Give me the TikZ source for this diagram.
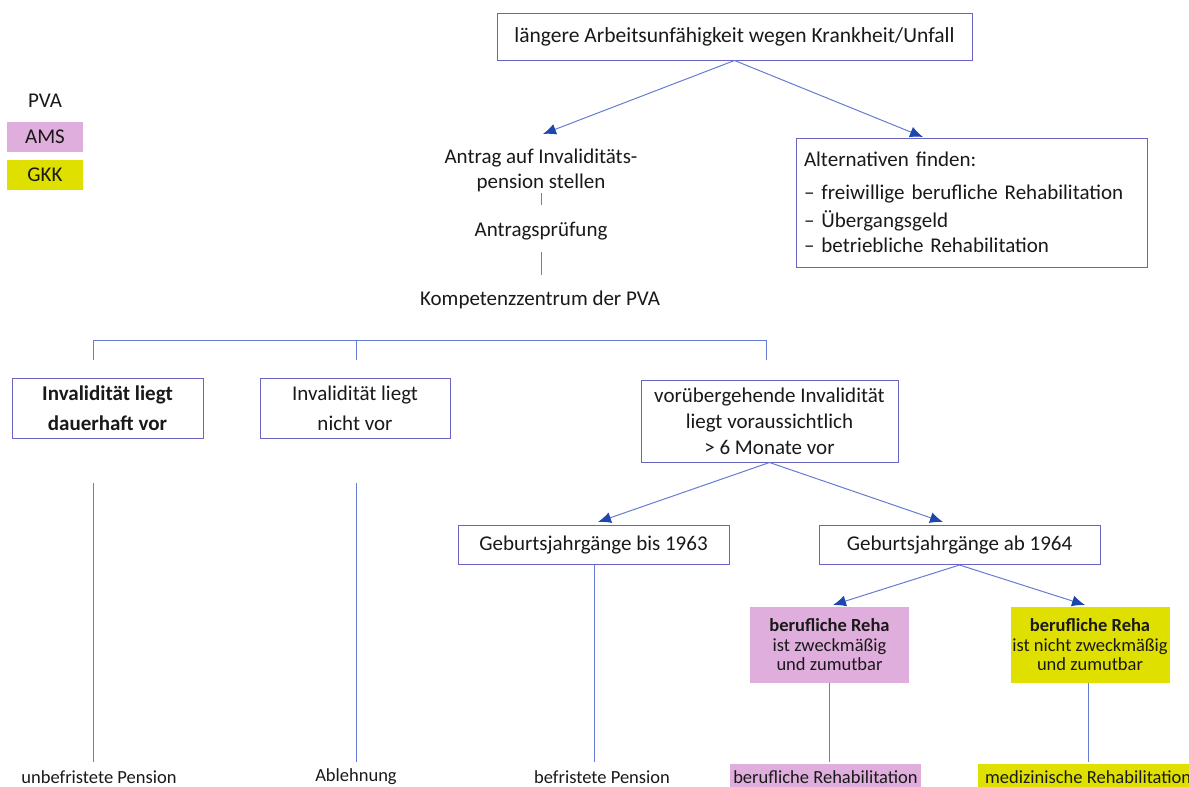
\documentclass[tikz,border=0pt]{standalone}
\usepackage{fontspec}
\setmainfont{Carlito}
\usetikzlibrary{arrows.meta}
\definecolor{ln}{RGB}{100,125,210}
\definecolor{bd}{RGB}{105,100,195}
\definecolor{ah}{RGB}{30,70,175}
\definecolor{pk}{RGB}{224,174,220}
\definecolor{yl}{RGB}{224,224,0}
\newcommand\fsa{\fontsize{21}{25}\selectfont}
\begin{document}
\begin{tikzpicture}[x=1pt,y=-1pt,
  every node/.style={font=\fsa, text=black!90, inner sep=0pt},
  box/.style={draw=bd, line width=1pt, align=center},
  lbl/.style={align=center},
  conn/.style={draw=ln, line width=1pt},
  arr/.style={conn, -{Latex[length=13pt,width=11pt,fill=ah,color=ah]}},
  colbox/.style={align=center, font=\fontsize{18.5}{19.5}\selectfont, minimum width=159pt, minimum height=76pt},
  res/.style={font=\fontsize{18.5}{22}\selectfont}
]
\useasboundingbox (0,0) rectangle (1189,787);

% legend
\node (pva) at (45,101) {PVA};
\node[fill=pk, minimum width=76pt, minimum height=30pt] (ams) at (45,137) {AMS};
\node[fill=yl, minimum width=76pt, minimum height=30pt] (gkk) at (45,175) {GKK};

% top
\node[box, minimum width=475pt, minimum height=47pt, font=\fontsize{21.5}{26}\selectfont] (top) at (734.5,36.5) {längere Arbeitsunfähigkeit wegen Krankheit/Unfall};
\node[lbl] (antrag) at (541,170) {Antrag auf Invaliditäts-\\pension stellen};
\node (pruef) at (541,231) {Antragsprüfung};
\node (komp) at (540,300) {Kompetenzzentrum der PVA};
\node[box, minimum width=351pt, minimum height=129pt, align=left, text width=335pt] (alt) at (971.5,202.5)
  {\fontsize{21}{28}\selectfont Alternativen finden:\\[5pt]
   – freiwillige berufliche Rehabilitation\\
   – Übergangsgeld\\
   – betriebliche Rehabilitation};

\coordinate (antragin) at (543,134);
\coordinate (altin) at (923,137);
\draw[arr] (top.south) -- (antragin);
\draw[arr] (top.south) -- (altin);

\coordinate (l1a) at (541,193); \coordinate (l1b) at (541,205);
\coordinate (l2a) at (541,252); \coordinate (l2b) at (541,275);
\draw[conn] (l1a) -- (l1b);
\draw[conn] (l2a) -- (l2b);

% bracket
\coordinate (b1) at (93,360); \coordinate (b2) at (356,360); \coordinate (b3) at (766,360);
\draw[conn] (b1) -- (93,340) -- (766,340) -- (b3);
\draw[conn] (b2) -- (356,340);

% level boxes
\node[box, minimum width=191pt, minimum height=60pt, font=\fontsize{21}{30}\selectfont\bfseries] (inv1) at (107.5,408) {Invalidität liegt\\dauerhaft vor};
\node[box, minimum width=190pt, minimum height=60pt, font=\fontsize{21}{30}\selectfont] (inv2) at (355,408) {Invalidität liegt\\nicht vor};
\node[box, minimum width=257pt, minimum height=82pt, font=\fontsize{21}{26}\selectfont] (inv3) at (769.5,421) {vorübergehende Invalidität\\liegt voraussichtlich\\> 6 Monate vor};

\node[box, minimum width=271pt, minimum height=39pt] (g63) at (593.5,545) {Geburtsjahrgänge bis 1963};
\node[box, minimum width=281pt, minimum height=39pt] (g64) at (959.5,545) {Geburtsjahrgänge ab 1964};
\coordinate (g63in) at (598,522);
\coordinate (g64in) at (943,522);
\draw[arr] (inv3.south) -- (g63in);
\draw[arr] (inv3.south) -- (g64in);

\node[colbox, fill=pk] (rz) at (829.5,645) {\textbf{berufliche Reha}\\ist zweckmäßig\\und zumutbar};
\node[colbox, fill=yl] (rn) at (1090,645) {\textbf{berufliche Reha}\\ist nicht zweckmäßig\\und zumutbar};
\coordinate (rzin) at (833,605);
\coordinate (rnin) at (1085,605);
\draw[arr] (g64.south) -- (rzin);
\draw[arr] (g64.south) -- (rnin);

% bottom results
\node[res] (unb) at (99,777) {unbefristete Pension};
\node[res] (abl) at (356,777) {Ablehnung};
\node[res] (bef) at (602,777) {befristete Pension};
\node[res, fill=pk, minimum width=191pt, minimum height=27pt] (brh) at (825.5,777) {berufliche Rehabilitation};
\node[res, fill=yl, anchor=west, minimum height=27pt, inner xsep=7pt] (mrh) at (978,777) {medizinische Rehabilitation};

\coordinate (v1) at (93,483); \coordinate (v2) at (356,483);
\draw[conn] (v1) -- (v1 |- 0,762);
\draw[conn] (v2) -- (v2 |- 0,762);
\draw[conn] (g63.south -| 594,0) -- (594,762);
\draw[conn] (rz.south) -- (rz.south |- 0,762);
\draw[conn] (rn.south -| 1088,0) -- (1088,762);
\end{tikzpicture}
\end{document}
